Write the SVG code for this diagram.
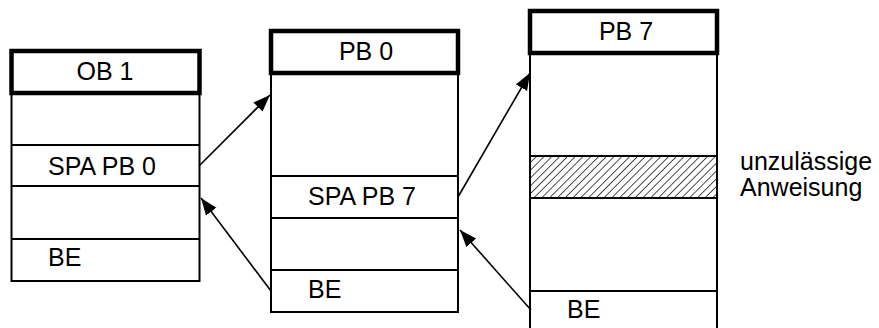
<svg xmlns="http://www.w3.org/2000/svg" width="879" height="328" viewBox="0 0 879 328">
<style>
.hdr{fill:#fff;stroke:#000;stroke-width:4.5}
.body{fill:#fff;stroke:#000;stroke-width:2}
.ln{stroke:#000;stroke-width:2;fill:none}
.t{font-family:"Liberation Sans",Arial,sans-serif;font-size:25px;fill:#000}
.c{text-anchor:middle}
.conn{stroke:#000;stroke-width:1.6;fill:none;marker-end:url(#ah)}
</style>
<defs>
<marker id="ah" markerUnits="userSpaceOnUse" markerWidth="18" markerHeight="14" refX="17" refY="6.5" orient="auto">
<path d="M0,0 L17,6.5 L0,13 z" fill="#000"/>
</marker>
<pattern id="hatch" patternUnits="userSpaceOnUse" width="5.5" height="5.5" patternTransform="rotate(45)">
<line x1="0" y1="0" x2="0" y2="5.5" stroke="#000" stroke-width="1.4"/>
</pattern>
</defs>
<rect width="879" height="328" fill="#fff"/>
<g id="ob1">
<rect class="body" x="11.5" y="93" width="188" height="188"/>
<line class="ln" x1="11.5" y1="145" x2="199.5" y2="145"/>
<line class="ln" x1="11.5" y1="186" x2="199.5" y2="186"/>
<line class="ln" x1="11.5" y1="239" x2="199.5" y2="239"/>
<rect class="hdr" x="11.5" y="51" width="188" height="42"/>
<text class="t c" x="105" y="80">OB 1</text>
<text class="t" x="48" y="175">SPA PB 0</text>
<text class="t" x="48" y="266">BE</text>
</g>
<g id="pb0">
<rect class="body" x="271" y="73" width="187" height="239"/>
<line class="ln" x1="271" y1="176" x2="458" y2="176"/>
<line class="ln" x1="271" y1="218" x2="458" y2="218"/>
<line class="ln" x1="271" y1="270" x2="458" y2="270"/>
<rect class="hdr" x="271" y="31" width="187" height="42"/>
<text class="t c" x="366" y="60">PB 0</text>
<text class="t" x="308" y="205">SPA PB 7</text>
<text class="t" x="308" y="298">BE</text>
</g>
<g id="pb7">
<rect class="body" x="530" y="53" width="187" height="290"/>
<rect x="530" y="156" width="187" height="42" fill="url(#hatch)" stroke="#000" stroke-width="2"/>
<line class="ln" x1="530" y1="291" x2="717" y2="291"/>
<rect class="hdr" x="530" y="11" width="187" height="42"/>
<text class="t c" x="626" y="40">PB 7</text>
<text class="t" x="567" y="318">BE</text>
</g>
<g id="note">
<text class="t" x="740" y="170">unzulässige</text>
<text class="t" x="740" y="196">Anweisung</text>
</g>
<g id="connectors">
<line class="conn" x1="199" y1="166" x2="270" y2="95"/>
<line class="conn" x1="271" y1="291" x2="201" y2="198"/>
<line class="conn" x1="458" y1="197" x2="530" y2="73"/>
<line class="conn" x1="531" y1="310" x2="460" y2="230"/>
</g>
</svg>
